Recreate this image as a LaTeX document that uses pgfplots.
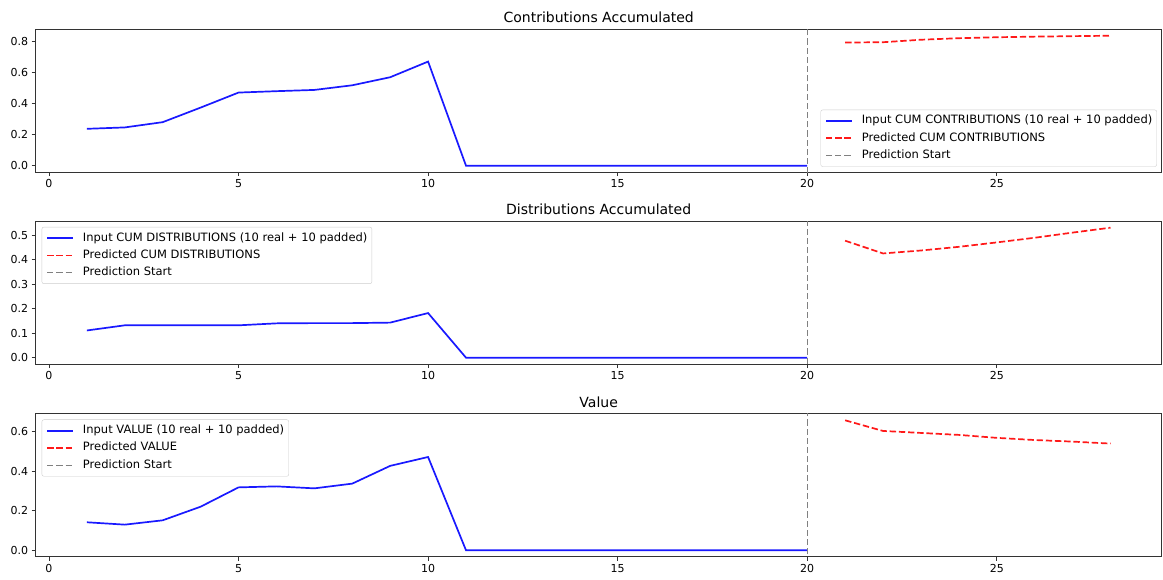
\documentclass[border=0pt]{standalone}
\usepackage{pgfplots}
\pgfplotsset{compat=1.18}
\usepackage{fontspec}
\setmainfont{DejaVu Sans}
\definecolor{mblue}{rgb}{0.1,0.1,1}
\definecolor{mred}{rgb}{1,0.1,0.1}
\definecolor{mgray}{rgb}{0.5,0.5,0.5}
\pgfplotsset{
  mystyle/.style={
    scale only axis, width=1126pt, height=143pt,
    xmin=-0.35, xmax=29.35,
    xtick={0,5,10,15,20,25},
    xtick pos=left, ytick pos=left,
    tick align=outside, major tick length=4pt,
    tick style={black!80, line width=0.9pt},
    axis line style={black!80, line width=0.9pt},
    tick label style={font=\fontsize{11}{13}\selectfont},
    /pgf/number format/assume math mode=true,
    yticklabel style={/pgf/number format/.cd, fixed, fixed zerofill, precision=1},
    every axis title shift=0pt,
    title style={font=\fontsize{14}{16}\selectfont, at={(0.5,1)}, anchor=base, yshift=6.5pt},
    legend cell align=left,
    legend style={font=\fontsize{11.5}{13}\selectfont, draw=black!20, rounded corners=2pt,
      fill=white,
      inner xsep=4.5pt, inner ysep=5.5pt, row sep=6.3pt,
      nodes={inner sep=0pt, text height=8.5pt, text depth=2.5pt},
      /tikz/every odd column/.append style={column sep=9.4pt}},
  },
  inp/.style={draw=mblue, line width=1.7pt},
  pred/.style={draw=mred, line width=1.7pt, dash pattern=on 6.4pt off 2.8pt},
  vl/.style={draw=mgray, line width=1.4pt, dash pattern=on 6.2pt off 3pt},
  limg/.style={legend image code/.code={\draw[#1] (0pt,0pt) -- (25.5pt,0pt);}},
}
\begin{document}
\begin{tikzpicture}
\useasboundingbox (0,0) rectangle (1163pt,579pt);
% Panel 1
\begin{axis}[mystyle, at={(35.7pt,406.8pt)}, anchor=south west,
  title={Contributions Accumulated},
  ymin=-0.042, ymax=0.881, ytick={0,0.2,0.4,0.6,0.8},
  legend style={at={(1,0)}, anchor=south east, xshift=-4.7pt, yshift=5.5pt}]
\addplot[inp, forget plot] coordinates {(1,0.238)(2,0.247)(3,0.281)(4,0.375)(5,0.472)(6,0.481)(7,0.489)(8,0.519)(9,0.571)(10,0.672)(11,0)(12,0)(13,0)(14,0)(15,0)(16,0)(17,0)(18,0)(19,0)(20,0)};
\addplot[pred, forget plot] coordinates {(21,0.795)(22,0.797)(23,0.813)(24,0.823)(25,0.829)(26,0.833)(27,0.836)(28,0.839)};
\addplot[vl, forget plot] coordinates {(20,-1)(20,2)};
\addlegendimage{limg={mblue, line width=1.7pt}}
\addlegendentry{Input CUM CONTRIBUTIONS (10 real + 10 padded)}
\addlegendimage{limg={mred, line width=1.7pt, dash pattern=on 6.4pt off 2.8pt}}
\addlegendentry{Predicted CUM CONTRIBUTIONS}
\addlegendimage{limg={mgray, line width=1.4pt, dash pattern=on 6.2pt off 3pt}}
\addlegendentry{Prediction Start}
\end{axis}
% Panel 2
\begin{axis}[mystyle, at={(35.7pt,214.8pt)}, anchor=south west,
  title={Distributions Accumulated},
  ymin=-0.0265, ymax=0.5565, ytick={0,0.1,0.2,0.3,0.4,0.5},
  legend style={at={(0,1)}, anchor=north west, xshift=6pt, yshift=-5.7pt}]
\addplot[inp, forget plot] coordinates {(1,0.111)(2,0.132)(3,0.132)(4,0.132)(5,0.132)(6,0.140)(7,0.141)(8,0.141)(9,0.143)(10,0.182)(11,0)(12,0)(13,0)(14,0)(15,0)(16,0)(17,0)(18,0)(19,0)(20,0)};
\addplot[pred, forget plot] coordinates {(21,0.477)(22,0.425)(23,0.437)(24,0.452)(25,0.470)(26,0.489)(27,0.510)(28,0.530)};
\addplot[vl, forget plot] coordinates {(20,-1)(20,2)};
\addlegendimage{limg={mblue, line width=1.7pt}}
\addlegendentry{Input CUM DISTRIBUTIONS (10 real + 10 padded)}
\addlegendimage{limg={mred, line width=1.7pt, dash pattern=on 6.4pt off 2.8pt}}
\addlegendentry{Predicted CUM DISTRIBUTIONS}
\addlegendimage{limg={mgray, line width=1.4pt, dash pattern=on 6.2pt off 3pt}}
\addlegendentry{Prediction Start}
\end{axis}
% Panel 3
\begin{axis}[mystyle, at={(35.7pt,22.2pt)}, anchor=south west,
  title={Value},
  ymin=-0.033, ymax=0.692, ytick={0,0.2,0.4,0.6},
  legend style={at={(0,1)}, anchor=north west, xshift=6pt, yshift=-5.7pt}]
\addplot[inp, forget plot] coordinates {(1,0.142)(2,0.130)(3,0.152)(4,0.221)(5,0.319)(6,0.324)(7,0.314)(8,0.338)(9,0.428)(10,0.473)(11,0)(12,0)(13,0)(14,0)(15,0)(16,0)(17,0)(18,0)(19,0)(20,0)};
\addplot[pred, forget plot] coordinates {(21,0.659)(22,0.605)(23,0.595)(24,0.585)(25,0.570)(26,0.559)(27,0.551)(28,0.541)};
\addplot[vl, forget plot] coordinates {(20,-1)(20,2)};
\addlegendimage{limg={mblue, line width=1.7pt}}
\addlegendentry{Input VALUE (10 real + 10 padded)}
\addlegendimage{limg={mred, line width=1.7pt, dash pattern=on 6.4pt off 2.8pt}}
\addlegendentry{Predicted VALUE}
\addlegendimage{limg={mgray, line width=1.4pt, dash pattern=on 6.2pt off 3pt}}
\addlegendentry{Prediction Start}
\end{axis}
\end{tikzpicture}
\end{document}
